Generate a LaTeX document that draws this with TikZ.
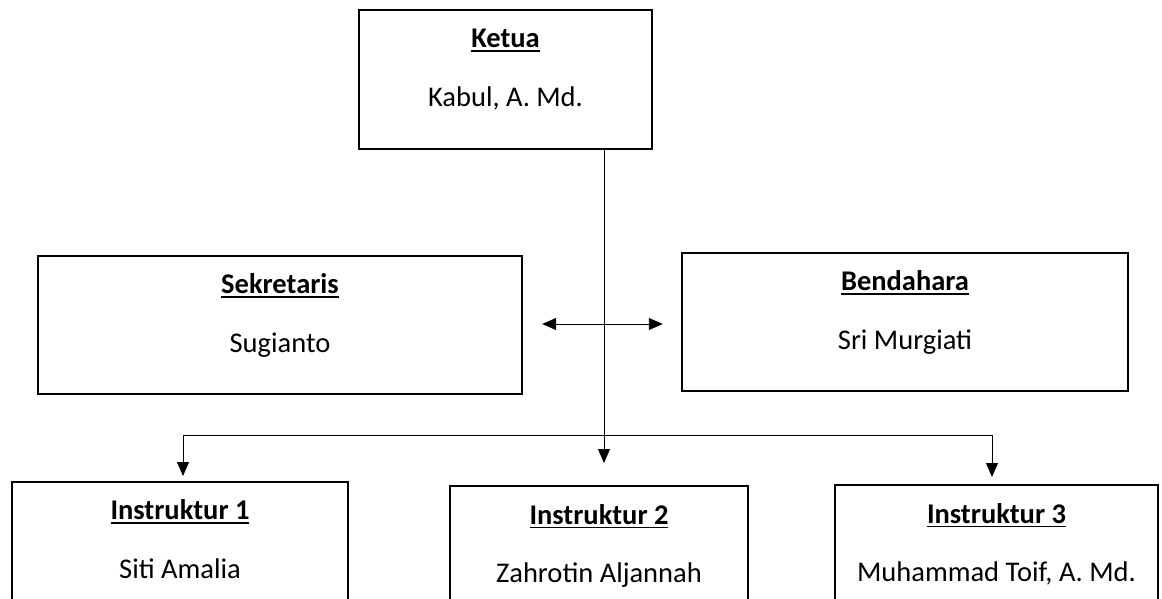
\documentclass[tikz,border=0pt]{standalone}
\usepackage{fontspec}
\setmainfont{Carlito}
\usetikzlibrary{arrows.meta}
\newcommand\garis[1]{\setbox0\hbox{#1}\rlap{\rule[-4pt]{\wd0}{1.6pt}}\box0}

\begin{document}
\begin{tikzpicture}[x=1pt,y=-1pt,
  box/.style={draw, line width=2.4pt, inner sep=0pt},
  tipis/.style={draw, line width=1.3pt, inner sep=0pt},
  jabatan/.style={anchor=base, inner sep=0pt, font=\bfseries},
  nama/.style={anchor=base, inner sep=0pt},
  panah/.style={line width=0.9pt, -{Triangle[length=14pt,width=12pt]}}]

  \fontsize{28.5}{34}\selectfont

  \newcommand\Atas{-39pt};
  \newcommand\Bawah{-97.5pt};

  \useasboundingbox (0,0) rectangle (1162,598);

  %% kotak
  \node[box, minimum width=293pt, minimum height=139pt] (ketua) at (505.5,79.5) {};
  \node[box, minimum width=484pt, minimum height=138pt] (sekretaris) at (280,325) {};
  \node[box, minimum width=446pt, minimum height=138pt] (bendahara) at (905,322) {};
  \node[box, minimum width=336pt, minimum height=138pt] (instr1) at (180,551) {};
  \node[tipis, minimum width=298pt, minimum height=138pt] (instr2) at (599,555) {};
  \node[tipis, line width=1.6pt, minimum width=323pt, minimum height=138pt] (instr3) at (996.5,554) {};

  %% teks
  \node[jabatan] (ketuaJ) at ([yshift=\Atas]ketua.north) {\garis{Ketua}};
  \node[nama] (ketuaN) at ([yshift=\Bawah]ketua.north) {Kabul, A. Md.};
  \node[jabatan] (sekretarisJ) at ([yshift=\Atas]sekretaris.north) {\garis{Sekretaris}};
  \node[nama] (sekretarisN) at ([yshift=\Bawah]sekretaris.north) {Sugianto};
  \node[jabatan] (bendaharaJ) at ([yshift=\Atas]bendahara.north) {\garis{Bendahara}};
  \node[nama] (bendaharaN) at ([yshift=\Bawah]bendahara.north) {Sri Murgiati};
  \node[jabatan] (instr1J) at ([yshift=\Atas]instr1.north) {\garis{Instruktur 1}};
  \node[nama] (instr1N) at ([yshift=\Bawah]instr1.north) {Siti Amalia};
  \node[jabatan] (instr2J) at ([yshift=\Atas]instr2.north) {\garis{Instruktur 2}};
  \node[nama] (instr2N) at ([yshift=\Bawah]instr2.north) {Zahrotin Aljannah};
  \node[jabatan] (instr3J) at ([yshift=\Atas]instr3.north) {\garis{Instruktur 3}};
  \node[nama] (instr3N) at ([yshift=\Bawah]instr3.north) {Muhammad Toif, A. Md.};

  %% garis
  \coordinate (cabang) at (604,435);
  \coordinate (ujung1) at (183,476);
  \coordinate (ujung2) at (604,463);
  \coordinate (ujung3) at (992,477);

  \draw[panah] (ketua.south -| cabang) -- (ujung2); % ketua -> instruktur 2
  \draw[panah] (cabang) -| (ujung1); % -> instruktur 1
  \draw[panah] (cabang) -| (ujung3); % -> instruktur 3
  \draw[line width=0.9pt, {Triangle[length=14pt,width=12pt]}-{Triangle[length=14pt,width=12pt]},
    shorten <=19pt, shorten >=18pt] ([yshift=1pt]sekretaris.east) -- ([yshift=1pt]sekretaris.east -| bendahara.west); % sekretaris <-> bendahara

\end{tikzpicture}
\end{document}
